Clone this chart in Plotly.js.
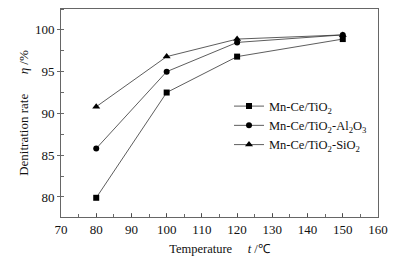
<!DOCTYPE html>
<html>
<head>
<meta charset="utf-8">
<script src="https://cdn.plot.ly/plotly-3.0.1.min.js"></script>
<style>html,body{margin:0;padding:0;background:#fff;}#chart{width:393px;height:257px;}</style>
</head>
<body>
<div id="chart"></div>
<script>
const temperatures = [80, 100, 120, 150];
const tio2 = [79.9, 92.5, 96.8, 98.9];
const tio2Al2o3 = [85.8, 95.0, 98.5, 99.4];
const tio2Sio2 = [90.8, 96.8, 98.9, 99.4];
const seriesNames = ['Mn-Ce/TiO<sub>2</sub>', 'Mn-Ce/TiO<sub>2</sub>-Al<sub>2</sub>O<sub>3</sub>', 'Mn-Ce/TiO<sub>2</sub>-SiO<sub>2</sub>'];
const xTicks = [70, 80, 90, 100, 110, 120, 130, 140, 150, 160];
const yTicks = [80, 85, 90, 95, 100];

const symbols = ['square', 'circle', 'triangle-up'];
const sizes = [6, 6, 7];
const data = [tio2, tio2Al2o3, tio2Sio2].map((ys, i) => ({
  x: temperatures, y: ys, name: seriesNames[i], type: 'scatter', mode: 'lines+markers',
  line: {color: '#333', width: 0.8},
  marker: {symbol: symbols[i], size: sizes[i], color: '#000'}
}));

const fam = '"Liberation Serif", "Times New Roman", serif';
const font = {family: fam, size: 13, color: '#111'};
const layout = {
  width: 393, height: 257,
  margin: {l: 61, r: 15, t: 9, b: 40},
  paper_bgcolor: '#fff', plot_bgcolor: '#fff',
  font: font,
  showlegend: true,
  legend: {x: 0.53, y: 0.44, xanchor: 'left', yanchor: 'middle', bgcolor: 'rgba(0,0,0,0)',
           font: {family: fam, size: 12.5, color: '#111'}, tracegroupgap: 0},
  xaxis: {
    range: [70, 160], tickvals: xTicks, ticktext: xTicks.map(String),
    ticks: 'inside', ticklen: 4, tickcolor: '#444', tickwidth: 0.8,
    minor: {dtick: 5, ticks: 'inside', ticklen: 3, tickcolor: '#444', tickwidth: 0.8},
    showline: true, linecolor: '#666', linewidth: 1, mirror: true,
    showgrid: false, zeroline: false,
    title: {text: 'Temperature\u00a0\u00a0\u00a0\u00a0\u00a0<i>t</i> /℃', font: {family: fam, size: 12.5, color: '#111'}, standoff: 8}
  },
  yaxis: {
    range: [77.6, 102.5], tickvals: yTicks, ticktext: yTicks.map(String),
    ticks: 'outside', ticklen: 3, tickcolor: '#444', tickwidth: 0.8,
    minor: {dtick: 2.5, ticks: 'inside', ticklen: 3, tickcolor: '#444', tickwidth: 0.8},
    showline: true, linecolor: '#666', linewidth: 1, mirror: true,
    showgrid: false, zeroline: false,
    title: {text: 'Denitration rate\u00a0\u00a0\u00a0\u00a0\u00a0\u00a0<i>η</i> /%', font: {family: fam, size: 13, color: '#111'}, standoff: 3}
  }
};
Plotly.newPlot('chart', data, layout, {staticPlot: true, displayModeBar: false});
</script>
</body>
</html>
